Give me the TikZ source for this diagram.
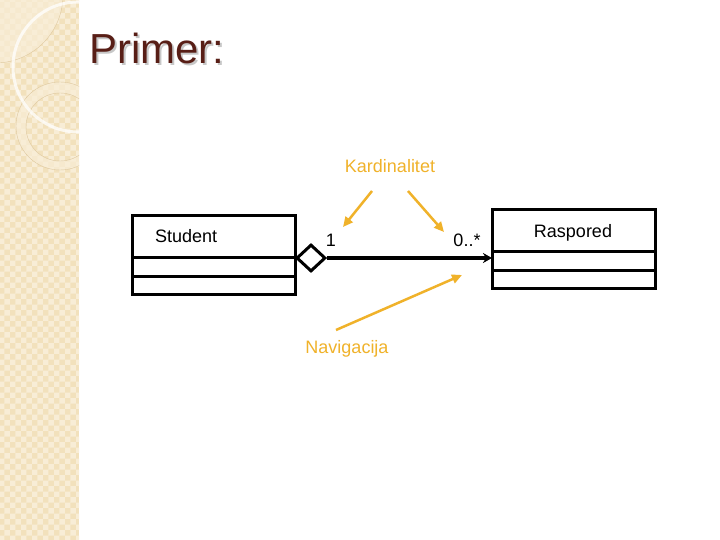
\documentclass[tikz,border=0pt]{standalone}
\usepackage{fontspec}
\setmainfont{Liberation Sans}
\usetikzlibrary{positioning,shapes.geometric,arrows.meta,patterns}
\definecolor{band}{RGB}{242,225,188}
\definecolor{bandlight}{RGB}{248,237,214}
\definecolor{bandline}{RGB}{222,200,158}
\definecolor{titlebrown}{RGB}{88,30,22}
\definecolor{hintcolor}{RGB}{240,178,42}
\tikzset{
  cls/.style={draw, line width=3pt, minimum width=163pt, outer sep=0pt, inner sep=0pt},
  clsname/.style={cls, minimum height=41pt},
  clsslot/.style={cls, minimum height=19pt},
  lbl/.style={inner sep=0pt, font=\fontsize{18}{20}\selectfont},
  hint/.style={draw=hintcolor, line width=2.5pt, -{Triangle[length=10pt,width=9pt]}},
}
\newcommand\shadowtext[1]{\rlap{\hspace{2pt}\raisebox{-2pt}{\color{black!22}#1}}#1}
\begin{document}
\begin{tikzpicture}[x=1pt,y=-1pt]
  \useasboundingbox (0,0) rectangle (720,540);
  \fill[white] (0,0) rectangle (720,540);
  % left band
  \fill[band] (0,0) rectangle (79,540);
  \fill[pattern=checkerboard, pattern color=bandlight] (0,0) rectangle (79,540);
  \begin{scope}
    \clip (0,0) rectangle (79,540);
    \fill[bandlight, opacity=.7] (-5,-5) circle (68pt);
    \draw[bandline, thin] (-5,-5) circle (68pt);
    \fill[bandlight, opacity=.7, even odd rule] (60,126) circle (44pt) (60,127) circle (34pt);
    \draw[bandline, thin] (60,126) circle (44pt);
    \draw[bandline, thin] (60,127) circle (34pt);
    \draw[white, opacity=.75, line width=3pt] (78,67) circle (65pt);
  \end{scope}

  \node[anchor=base west, inner sep=0pt, font=\fontsize{42}{44}\selectfont, text=titlebrown] (title) at (89,64) {\shadowtext{Primer:}};

  % classes
  \node[clsname] (student) at (213.5,236.5) {};
  \node[clsslot, below=0pt of student] (student-attr) {};
  \node[clsslot, minimum height=18pt, below=0pt of student-attr] (student-op) {};
  \node[lbl, anchor=base west] (student-txt) at (155,242) {Student};

  \node[clsname] (raspored) at (573.5,230.5) {};
  \node[clsslot, below=0pt of raspored] (raspored-attr) {};
  \node[clsslot, minimum height=18pt, below=0pt of raspored-attr] (raspored-op) {};
  \node[lbl, anchor=base] (raspored-txt) at (573,237) {Raspored};

  % association
  \node[draw, diamond, fill=white, line width=3pt, minimum width=29pt, minimum height=27pt, inner sep=0pt, anchor=west] (agg) at ([yshift=-1pt]student.south east) {};
  \draw[line width=3.5pt, -{Stealth[length=9pt,width=10pt]}] (agg.east) -- (agg.east -| raspored-attr.west);
  \node[lbl, anchor=base] (mult-one) at (331,246) {1};
  \node[lbl, anchor=base] (mult-many) at (467,246) {0..*};

  % notes
  \node[lbl, text=hintcolor, anchor=base] (kard) at (390,173) {Kardinalitet};
  \node[lbl, text=hintcolor, anchor=base] (nav) at (347,353) {Navigacija};
  \coordinate (kard-a) at (372,191);
  \coordinate (kard-b) at (408,191);
  \coordinate (nav-a) at (336,330);
  \coordinate (one-tip) at (343,227);
  \coordinate (many-tip) at (444,232);
  \coordinate (nav-tip) at (462,275);
  \draw[hint] (kard-a) -- (one-tip);
  \draw[hint] (kard-b) -- (many-tip);
  \draw[hint] (nav-a) -- (nav-tip);
\end{tikzpicture}
\end{document}
